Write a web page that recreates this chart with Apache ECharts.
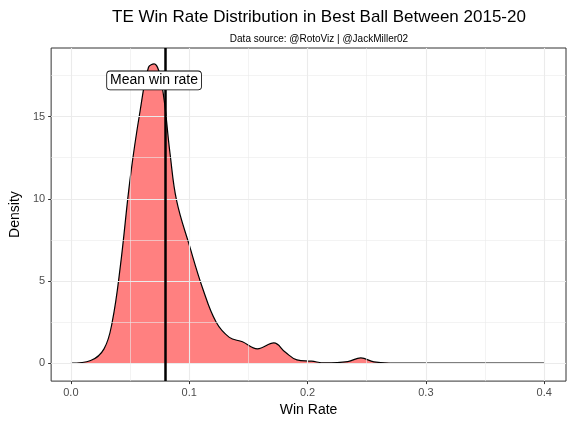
<!DOCTYPE html><html><head><meta charset="utf-8"><script src="https://cdn.jsdelivr.net/npm/echarts@6/dist/echarts.min.js"></script></head><body style="margin:0"><div id="c" style="width:578px;height:422px"></div><script>
const winRate=[0,0.0167,0.028,0.0349,0.0418,0.0502,0.0586,0.0656,0.0703,0.0767,0.0837,0.0893,0.1004,0.1116,0.1227,0.1339,0.145,0.1576,0.1715,0.1813,0.191,0.2033,0.2145,0.234,0.245,0.256,0.27,0.3,0.35,0.4];
const density=[0,0.16,0.87,2.5,5.9,11.3,15.4,18.0,18.2,17.0,12.8,9.9,7.1,4.5,2.5,1.57,1.3,0.87,1.23,0.66,0.2,0.12,0.02,0.1,0.32,0.08,0.01,0,0,0];
const meanRate=0.0837;
const xTicks=[0,0.1,0.2,0.3,0.4];const xMinor=[0.05,0.15,0.25,0.35];
const yTicks=[0,5,10,15];const yMinor=[2.5,7.5,12.5,17.5];
const g='#ebebeb';
const gl=[...xTicks.map(v=>({xAxis:v,lineStyle:{color:g,width:1.1,type:'solid'}})),...xMinor.map(v=>({xAxis:v,lineStyle:{color:g,width:0.6,type:'solid'}})),...yTicks.map(v=>({yAxis:v,lineStyle:{color:g,width:1.1,type:'solid'}})),...yMinor.map(v=>({yAxis:v,lineStyle:{color:g,width:0.6,type:'solid'}}))];
const ch=echarts.init(document.getElementById('c'));
ch.setOption({animation:false,
title:[{text:'TE Win Rate Distribution in Best Ball Between 2015-20',left:314,top:4,textAlign:'center',textStyle:{fontFamily:'Liberation Sans',fontWeight:'normal',fontSize:17,color:'#000'}},
{text:'Data source: @RotoViz | @JackMiller02',left:314,top:29,textAlign:'center',textStyle:{fontFamily:'Liberation Sans',fontWeight:'normal',fontSize:10,color:'#000'}}],
grid:{left:48,right:12,top:48,bottom:39,show:true,borderColor:'#333',borderWidth:1,backgroundColor:'#fff'},
xAxis:{type:'value',min:-0.0167,max:0.4184,name:'Win Rate',nameLocation:'middle',nameGap:20,nameTextStyle:{fontFamily:'Liberation Sans',fontSize:14,color:'#000'},
axisLine:{show:false,onZero:false},splitLine:{show:false},axisTick:{show:true,inside:false,customValues:xTicks,length:3,lineStyle:{color:'#333'}},axisLabel:{customValues:xTicks,fontFamily:'Liberation Sans',fontSize:11,color:'#4d4d4d',margin:6,formatter:v=>v===0?'0.0':String(v)}},
yAxis:{type:'value',min:-1.09,max:19.17,name:'Density',nameLocation:'middle',nameGap:28,nameTextStyle:{fontFamily:'Liberation Sans',fontSize:14,color:'#000'},
axisLine:{show:false,onZero:false},splitLine:{show:false},axisTick:{show:true,inside:false,customValues:yTicks,length:3,lineStyle:{color:'#333'}},axisLabel:{customValues:yTicks,fontFamily:'Liberation Sans',fontSize:11,color:'#4d4d4d',margin:6}},
series:[{type:'line',data:[],z:1,markLine:{silent:true,symbol:'none',label:{show:false},data:gl}},
{type:'line',data:winRate.map((x,i)=>[x,density[i]]),smooth:0.4,symbol:'none',lineStyle:{color:'#000',width:1.2},areaStyle:{color:'#ff8080',opacity:1,origin:0},z:3},
{type:'line',data:[],z:5,markLine:{silent:true,symbol:'none',lineStyle:{color:'#000',width:2.5,type:'solid'},label:{show:false},data:[{xAxis:meanRate}]}},
{type:'scatter',data:[[0.0703,17.2]],symbolSize:1,itemStyle:{opacity:0},z:6,label:{show:true,position:'inside',align:'center',verticalAlign:'middle',formatter:'Mean win rate',fontFamily:'Liberation Sans',fontSize:14,color:'#000',opacity:1,backgroundColor:'#fff',borderColor:'#000',borderWidth:0.8,borderRadius:3,padding:[2,3]}}]});
</script></body></html>
